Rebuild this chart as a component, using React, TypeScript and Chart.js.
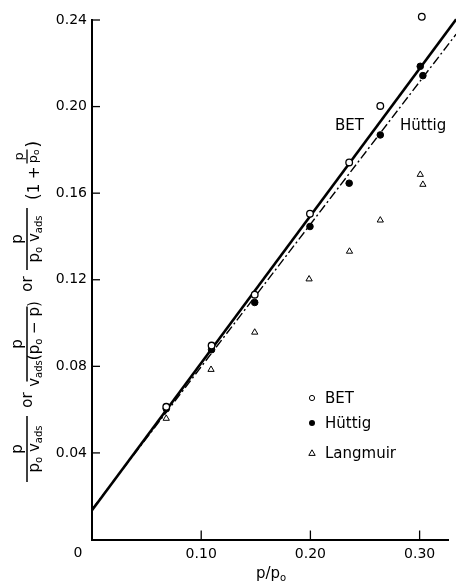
import React, { useEffect, useRef } from "react";
import { Chart, registerables } from "chart.js";

Chart.register(...registerables);

// ---- data ----
const BET_X = [0.068, 0.1095, 0.149, 0.1996, 0.2355, 0.264, 0.302, 0.304];
const BET_Y = [0.0613, 0.0896, 0.1131, 0.1505, 0.1742, 0.2003, 0.2415, 0.2425];
const HUTTIG_X = [0.068, 0.1095, 0.149, 0.1996, 0.2355, 0.264, 0.3006, 0.303];
const HUTTIG_Y = [0.0604, 0.0877, 0.1095, 0.1446, 0.1646, 0.1869, 0.2186, 0.2143];
const LANGMUIR_X = [0.068, 0.109, 0.149, 0.1988, 0.2358, 0.264, 0.3006, 0.303];
const LANGMUIR_Y = [0.0559, 0.0785, 0.0957, 0.1203, 0.1331, 0.1475, 0.1686, 0.164];
const FIT_X = [0, 0.3335];
const BET_FIT_Y = [0.0135, 0.2403];
const HUTTIG_FIT_Y = [0.014, 0.2335];
const X_TICKS = [0.1, 0.2, 0.3];
const Y_TICKS = [0.04, 0.08, 0.12, 0.16, 0.2, 0.24];
const LEGEND_LABELS = ["BET", "Hüttig", "Langmuir"];

const FONT = "'DejaVu Sans', sans-serif";

type Run = { t: string; s: number; dy: number };

const pts = (xs: number[], ys: number[]) => xs.map((x, i) => ({ x, y: ys[i] }));

function runsWidth(ctx: CanvasRenderingContext2D, runs: Run[]) {
  let w = 0;
  for (const r of runs) {
    ctx.font = `${r.s}px ${FONT}`;
    w += ctx.measureText(r.t).width;
  }
  return w;
}

function drawRuns(ctx: CanvasRenderingContext2D, runs: Run[], x: number, y: number) {
  let cx = x;
  for (const r of runs) {
    ctx.font = `${r.s}px ${FONT}`;
    ctx.fillText(r.t, cx, y + r.dy);
    cx += ctx.measureText(r.t).width;
  }
  return cx;
}

function drawCentered(ctx: CanvasRenderingContext2D, runs: Run[], uc: number, base: number) {
  const w = runsWidth(ctx, runs);
  drawRuns(ctx, runs, uc - w / 2, base);
}

function drawFrac(
  ctx: CanvasRenderingContext2D,
  uc: number,
  num: Run[],
  den: Run[],
  len: number,
  numBase: number,
  denBase: number,
  lw: number
) {
  ctx.lineWidth = lw;
  ctx.beginPath();
  ctx.moveTo(uc - len / 2, 0);
  ctx.lineTo(uc + len / 2, 0);
  ctx.stroke();
  drawCentered(ctx, num, uc, numBase);
  drawCentered(ctx, den, uc, denBase);
}

const M = 15;
const S = 10;
const P: Run[] = [{ t: "p", s: M, dy: 0 }];
const P0VADS: Run[] = [
  { t: "p", s: M, dy: 0 },
  { t: "o", s: S, dy: 3 },
  { t: " v", s: M, dy: 0 },
  { t: "ads", s: S, dy: 3 },
];
const VADS_P0P: Run[] = [
  { t: "v", s: M, dy: 0 },
  { t: "ads", s: S, dy: 3 },
  { t: "(p", s: M, dy: 0 },
  { t: "o", s: S, dy: 3 },
  { t: " \u2212 p)", s: M, dy: 0 },
];

const overlay = {
  id: "overlay",
  afterDraw(chart: any) {
    const ctx: CanvasRenderingContext2D = chart.ctx;
    const a = chart.chartArea;
    const xs = chart.scales.x;
    const ys = chart.scales.y;
    ctx.save();
    ctx.strokeStyle = "#000";
    ctx.fillStyle = "#000";
    // inward tick marks
    ctx.lineWidth = 1.3;
    for (const t of xs.ticks) {
      const px = xs.getPixelForValue(t.value);
      ctx.beginPath();
      ctx.moveTo(px, a.bottom);
      ctx.lineTo(px, a.bottom - 9);
      ctx.stroke();
    }
    for (const t of ys.ticks) {
      const py = ys.getPixelForValue(t.value);
      ctx.beginPath();
      ctx.moveTo(a.left, py);
      ctx.lineTo(a.left + 8, py);
      ctx.stroke();
    }
    // origin label
    ctx.font = `14px ${FONT}`;
    ctx.textAlign = "center";
    ctx.textBaseline = "middle";
    ctx.fillText("0", a.left - 14, 553);

    // x title p/po
    ctx.textAlign = "left";
    ctx.textBaseline = "alphabetic";
    const xt: Run[] = [
      { t: "p/p", s: M, dy: 0 },
      { t: "o", s: S, dy: 3 },
    ];
    const xw = runsWidth(ctx, xt);
    drawRuns(ctx, xt, 271 - xw / 2, 578);

    // legend
    ctx.textBaseline = "middle";
    ctx.font = `${M}px ${FONT}`;
    const lx = 312;
    const tx = 325;
    const ly = [398, 423, 453];
    ctx.lineWidth = 1;
    ctx.beginPath();
    ctx.arc(lx, ly[0], 2.6, 0, Math.PI * 2);
    ctx.stroke();
    ctx.beginPath();
    ctx.arc(lx, ly[1], 3, 0, Math.PI * 2);
    ctx.fill();
    ctx.beginPath();
    ctx.moveTo(lx, ly[2] - 3.2);
    ctx.lineTo(lx + 3.2, ly[2] + 2.4);
    ctx.lineTo(lx - 3.2, ly[2] + 2.4);
    ctx.closePath();
    ctx.stroke();
    for (let i = 0; i < 3; i++) ctx.fillText(LEGEND_LABELS[i], tx, ly[i] + 1);

    // line annotations
    ctx.fillText("BET", 335, 126);
    ctx.fillText("Hüttig", 400, 126);

    // y title (rotated)
    ctx.translate(27, 0);
    ctx.rotate(-Math.PI / 2);
    ctx.textBaseline = "alphabetic";
    ctx.textAlign = "left";
    const u = (sy: number) => -sy;
    drawFrac(ctx, u(449), P, P0VADS, 66, -5, 12, 1.5);
    drawCentered(ctx, [{ t: "or", s: M, dy: 0 }], u(400), 5);
    drawFrac(ctx, u(344), P, VADS_P0P, 75, -5, 12, 1.5);
    drawCentered(ctx, [{ t: "or", s: M, dy: 0 }], u(284), 5);
    drawFrac(ctx, u(239), P, P0VADS, 62, -5, 12, 1.5);
    // (1 + p/po)
    const pu0 = u(200);
    ctx.font = `${M}px ${FONT}`;
    let cu = drawRuns(ctx, [{ t: "(", s: 17, dy: 0 }, { t: "1 +", s: M, dy: 0 }], pu0, 12);
    cu += 3;
    drawFrac(ctx, cu + 7, [{ t: "p", s: 13, dy: 0 }], [{ t: "p", s: 13, dy: 0 }, { t: "o", s: 9, dy: 2 }], 14, -4, 10, 1.3);
    drawRuns(ctx, [{ t: ")", s: 17, dy: 0 }], cu + 16, 12);
    ctx.restore();
  },
};

export default function App() {
  const ref = useRef<HTMLCanvasElement>(null);
  useEffect(() => {
    document.body.style.margin = "0";
    const canvas = ref.current;
    if (!canvas) return;
    const tickFont = { family: FONT, size: 14 };
    const chart = new Chart(canvas, {
      type: "scatter",
      data: {
        datasets: [
          {
            label: LEGEND_LABELS[0],
            data: pts(BET_X, BET_Y),
            pointStyle: "circle",
            pointRadius: 3.3,
            pointBackgroundColor: "#fff",
            pointBorderColor: "#000",
            pointBorderWidth: 1.3,
            showLine: false,
            clip: false,
          },
          {
            label: LEGEND_LABELS[1],
            data: pts(HUTTIG_X, HUTTIG_Y),
            pointStyle: "circle",
            pointRadius: 3.3,
            pointBackgroundColor: "#000",
            pointBorderColor: "#000",
            pointBorderWidth: 1,
            showLine: false,
            clip: false,
          },
          {
            label: LEGEND_LABELS[2],
            data: pts(LANGMUIR_X, LANGMUIR_Y),
            pointStyle: "triangle",
            pointRadius: 3.6,
            pointBackgroundColor: "#fff",
            pointBorderColor: "#000",
            pointBorderWidth: 1,
            showLine: false,
            clip: false,
          },
          {
            label: "BET fit",
            data: pts(FIT_X, BET_FIT_Y),
            showLine: true,
            borderColor: "#000",
            borderWidth: 2.6,
            pointRadius: 0,
            clip: false,
          },
          {
            label: "Hüttig fit",
            data: pts(FIT_X, HUTTIG_FIT_Y),
            showLine: true,
            borderColor: "#000",
            borderWidth: 1.4,
            borderDash: [9, 3, 2, 3],
            pointRadius: 0,
            clip: false,
          },
        ],
      } as any,
      options: {
        animation: false,
        responsive: false,
        events: [],
        layout: { padding: { top: 20, right: 8, left: 0, bottom: 0 } },
        plugins: { legend: { display: false }, tooltip: { enabled: false } },
        scales: {
          x: {
            type: "linear",
            min: 0,
            max: 0.326,
            afterBuildTicks: (s: any) => {
              s.ticks = X_TICKS.map((v) => ({ value: v }));
            },
            afterFit: (s: any) => {
              s.height = 46.5;
            },
            grid: { display: false, drawTicks: false },
            border: { display: true, color: "#000", width: 2 },
            ticks: {
              color: "#000",
              font: tickFont,
              padding: 6,
              maxRotation: 0,
              autoSkip: false,
              callback: (v: any) => Number(v).toFixed(2),
            },
          },
          y: {
            type: "linear",
            min: 0,
            max: 0.24,
            afterBuildTicks: (s: any) => {
              s.ticks = Y_TICKS.map((v) => ({ value: v }));
            },
            afterFit: (s: any) => {
              s.width = 92;
            },
            grid: { display: false, drawTicks: false },
            border: { display: true, color: "#000", width: 2 },
            ticks: {
              color: "#000",
              font: tickFont,
              padding: 5,
              autoSkip: false,
              callback: (v: any) => Number(v).toFixed(2),
            },
          },
        },
      } as any,
      plugins: [overlay],
    });
    return () => chart.destroy();
  }, []);
  return (
    <div style={{ width: 456, height: 586 }}>
      <canvas ref={ref} width={456} height={586} style={{ display: "block" }} />
    </div>
  );
}
